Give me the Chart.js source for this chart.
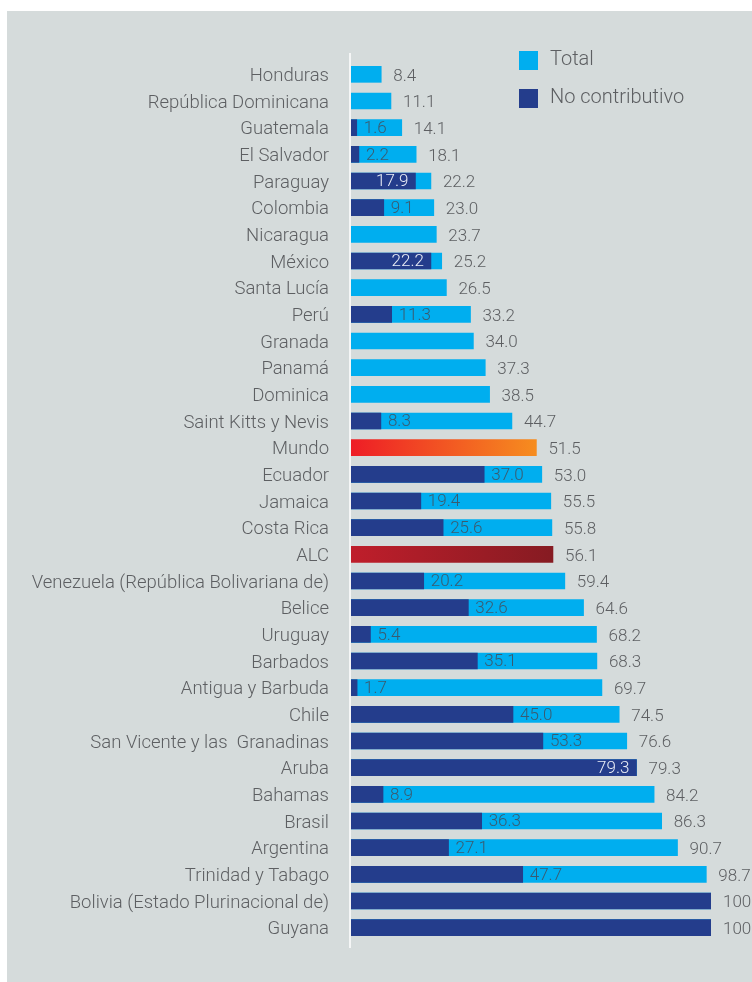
<!DOCTYPE html>
<html>
<head>
<meta charset="utf-8">
<script src="https://cdn.jsdelivr.net/npm/chart.js@4.4.1/dist/chart.umd.min.js"></script>
<style>
  html, body { margin: 0; padding: 0; background: #fff; }
  canvas { display: block; }
</style>
</head>
<body>
<canvas id="grafico" width="752" height="982"></canvas>
<script>
const paises = [
  'Honduras', 'República Dominicana', 'Guatemala', 'El Salvador', 'Paraguay',
  'Colombia', 'Nicaragua', 'México', 'Santa Lucía', 'Perú', 'Granada', 'Panamá',
  'Dominica', 'Saint Kitts y Nevis', 'Mundo', 'Ecuador', 'Jamaica', 'Costa Rica',
  'ALC', 'Venezuela (República Bolivariana de)', 'Belice', 'Uruguay', 'Barbados',
  'Antigua y Barbuda', 'Chile', 'San Vicente y las  Granadinas', 'Aruba', 'Bahamas',
  'Brasil', 'Argentina', 'Trinidad y Tabago', 'Bolivia (Estado Plurinacional de)', 'Guyana'
];
const total = [
  8.4, 11.1, 14.1, 18.1, 22.2, 23.0, 23.7, 25.2, 26.5, 33.2, 34.0, 37.3,
  38.5, 44.7, 51.5, 53.0, 55.5, 55.8, 56.1, 59.4, 64.6, 68.2, 68.3,
  69.7, 74.5, 76.6, 79.3, 84.2, 86.3, 90.7, 98.7, 100, 100
];
const noContributivo = [
  null, null, 1.6, 2.2, 17.9, 9.1, null, 22.2, null, 11.3, null, null,
  null, 8.3, null, 37.0, 19.4, 25.6, null, 20.2, 32.6, 5.4, 35.1,
  1.7, 45.0, 53.3, 79.3, 8.9, 36.3, 27.1, 47.7, 100, 100
];

const AZUL = '#00aeef';
const MARINO = '#243d8c';
const GRIS_TEXTO = '#5d5f62';
const FUENTE = 'Roboto, "Liberation Sans", sans-serif';

// agregados regionales con degradado propio
const degradados = {
  'Mundo': ['#ee1d26', '#f68d1f'],
  'ALC': ['#bf1e2b', '#861b22']
};

function colorTotal(ctx) {
  const chart = ctx.chart;
  const nombre = paises[ctx.dataIndex];
  const area = chart.chartArea;
  if (!degradados[nombre] || !area) return AZUL;
  const x1 = chart.scales.x.getPixelForValue(total[ctx.dataIndex]);
  const g = chart.ctx.createLinearGradient(area.left, 0, x1, 0);
  g.addColorStop(0, degradados[nombre][0]);
  g.addColorStop(1, degradados[nombre][1]);
  return g;
}

const fondo = {
  id: 'fondo',
  beforeDraw(chart) {
    const c = chart.ctx;
    c.save();
    c.fillStyle = '#ffffff';
    c.fillRect(0, 0, chart.width, chart.height);
    c.fillStyle = '#d5dbdb';
    c.fillRect(7, 11, chart.width - 7, chart.height - 11);
    c.restore();
  },
  beforeDatasetsDraw(chart) {
    const c = chart.ctx;
    const a = chart.chartArea;
    c.save();
    c.strokeStyle = '#ffffff';
    c.lineWidth = 1.5;
    c.beginPath();
    c.moveTo(a.left - 1, a.top - 8);
    c.lineTo(a.left - 1, a.bottom + 7);
    c.stroke();
    c.restore();
  }
};

const etiquetas = {
  id: 'etiquetas',
  afterDatasetsDraw(chart) {
    const c = chart.ctx;
    const barrasTotal = chart.getDatasetMeta(0).data;
    const barrasNC = chart.getDatasetMeta(1).data;
    c.save();
    c.font = '300 17px ' + FUENTE;
    c.textBaseline = 'middle';
    barrasTotal.forEach((bar, i) => {
      c.fillStyle = GRIS_TEXTO;
      c.textAlign = 'left';
      c.fillText(String(total[i] === 100 ? '100' : total[i].toFixed(1)), bar.x + 12, bar.y + 2);
      const nc = noContributivo[i];
      if (nc === null || nc === 100) return;
      const b = barrasNC[i];
      if (total[i] - nc < 5) {
        c.fillStyle = '#e9edf6';
        c.textAlign = 'right';
        c.fillText(nc.toFixed(1), b.x - 7, b.y + 1);
      } else {
        c.fillStyle = '#3a5b70';
        c.textAlign = 'left';
        c.fillText(nc.toFixed(1), b.x + 7, b.y + 1);
      }
    });
    c.restore();
  },
  afterDraw(chart) {
    const c = chart.ctx;
    c.save();
    c.font = '300 20px ' + FUENTE;
    c.textBaseline = 'middle';
    c.textAlign = 'left';
    const items = [chart.data.datasets[0], chart.data.datasets[1]];
    items.forEach((ds, k) => {
      const y = 51 + k * 38;
      c.fillStyle = k === 0 ? AZUL : MARINO;
      c.fillRect(519, y, 19, 19);
      c.fillStyle = GRIS_TEXTO;
      c.fillText(ds.label, 550, y + 9);
    });
    c.restore();
  }
};

const data = {
  labels: paises,
  datasets: [
    {
      label: 'Total',
      data: total,
      backgroundColor: colorTotal,
      order: 2
    },
    {
      label: 'No contributivo',
      data: noContributivo,
      backgroundColor: MARINO,
      order: 1
    }
  ]
};

const config = {
  type: 'bar',
  data: data,
  options: {
    indexAxis: 'y',
    responsive: false,
    animation: false,
    layout: { padding: { top: 61, bottom: 41, right: 41, left: 0 } },
    datasets: {
      bar: { grouped: false, barThickness: 16, borderWidth: 0 }
    },
    scales: {
      x: { display: false, min: 0, max: 100 },
      y: {
        afterFit: scale => { scale.width = 351; },
        grid: { display: false, drawTicks: false },
        border: { display: false },
        ticks: {
          padding: 22,
          labelOffset: 2,
          color: GRIS_TEXTO,
          font: { family: FUENTE, size: 18.5, weight: 300 },
          autoSkip: false
        }
      }
    },
    plugins: {
      legend: { display: false },
      tooltip: { enabled: false }
    }
  },
  plugins: [fondo, etiquetas]
};

const chart = new Chart(document.getElementById('grafico'), config);
</script>
</body>
</html>
